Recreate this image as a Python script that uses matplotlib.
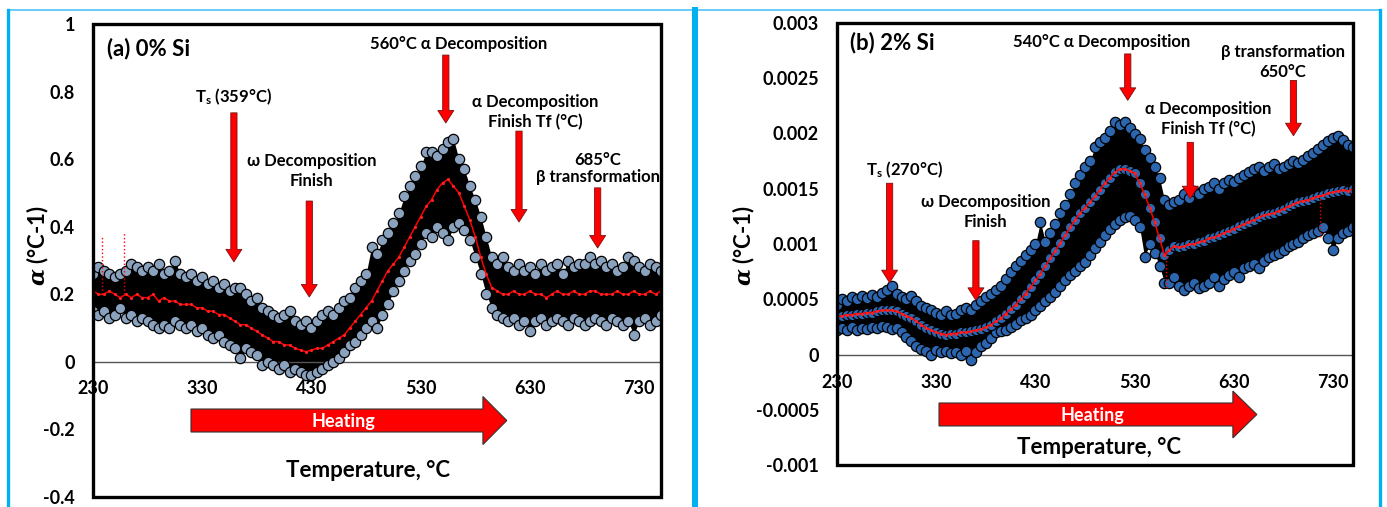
import numpy as np
import matplotlib.pyplot as plt
from matplotlib.lines import Line2D
from matplotlib.patches import FancyArrow, Rectangle

plt.rcParams['font.family'] = ['Lato', 'DejaVu Sans']
plt.rcParams['font.weight'] = 'bold'
plt.rcParams['mathtext.fontset'] = 'custom'
plt.rcParams['mathtext.rm'] = 'Lato:bold'
plt.rcParams['mathtext.bf'] = 'Lato:bold'
plt.rcParams['mathtext.it'] = 'DejaVu Serif:italic:bold'

# temperature grid (5 C steps, 230..750)
temp = np.arange(230, 755, 5)

# (a) 0% Si : cloud upper / lower edge and red average
a_upper = [0.26, 0.28, 0.27, 0.26, 0.25, 0.26, 0.27, 0.29, 0.28, 0.27, 0.28, 0.27, 0.29, 0.26, 0.27,
           0.30, 0.26, 0.25, 0.26, 0.24, 0.25, 0.23, 0.24, 0.22, 0.23, 0.21, 0.22, 0.22, 0.20, 0.18,
           0.19, 0.16, 0.15, 0.14, 0.13, 0.14, 0.15, 0.12, 0.11, 0.12, 0.10, 0.12, 0.14, 0.15, 0.14,
           0.16, 0.18, 0.19, 0.22, 0.24, 0.26, 0.34, 0.32, 0.36, 0.38, 0.41, 0.44, 0.49, 0.52, 0.55,
           0.58, 0.62, 0.62, 0.61, 0.63, 0.65, 0.66, 0.60, 0.57, 0.52, 0.48, 0.43, 0.37, 0.31, 0.29,
           0.31, 0.28, 0.27, 0.29, 0.27, 0.28, 0.26, 0.29, 0.27, 0.28, 0.29, 0.26, 0.30, 0.28, 0.29,
           0.29, 0.31, 0.29, 0.30, 0.28, 0.29, 0.27, 0.28, 0.31, 0.30, 0.28, 0.27, 0.29, 0.28, 0.27]
a_lower = [0.15, 0.14, 0.15, 0.13, 0.14, 0.16, 0.13, 0.14, 0.12, 0.13, 0.12, 0.11, 0.10, 0.11, 0.10,
           0.12, 0.11, 0.10, 0.11, 0.09, 0.10, 0.08, 0.07, 0.08, 0.06, 0.05, 0.04, 0.01, 0.04, 0.03,
           0.02, -0.01, 0.00, -0.01, -0.02, -0.01, -0.03, -0.02, -0.03, -0.04, -0.04, -0.03, -0.02, -0.01, 0.00,
           0.01, 0.03, 0.05, 0.06, 0.08, 0.10, 0.12, 0.10, 0.14, 0.17, 0.21, 0.24, 0.27, 0.30, 0.32,
           0.35, 0.38, 0.37, 0.40, 0.38, 0.36, 0.40, 0.41, 0.39, 0.36, 0.31, 0.26, 0.20, 0.16, 0.14,
           0.13, 0.12, 0.13, 0.11, 0.12, 0.09, 0.12, 0.13, 0.11, 0.12, 0.13, 0.12, 0.11, 0.13, 0.12,
           0.11, 0.12, 0.13, 0.12, 0.11, 0.13, 0.12, 0.11, 0.12, 0.08, 0.12, 0.13, 0.11, 0.12, 0.14]
a_mean = [0.21, 0.20, 0.20, 0.21, 0.20, 0.19, 0.20, 0.19, 0.20, 0.19, 0.19, 0.20, 0.18, 0.19, 0.18,
          0.18, 0.17, 0.17, 0.17, 0.16, 0.16, 0.15, 0.15, 0.14, 0.14, 0.13, 0.12, 0.11, 0.11, 0.10,
          0.09, 0.08, 0.07, 0.06, 0.06, 0.05, 0.05, 0.04, 0.035, 0.03, 0.035, 0.04, 0.04, 0.05, 0.06,
          0.07, 0.08, 0.10, 0.12, 0.14, 0.16, 0.18, 0.21, 0.24, 0.27, 0.29, 0.31, 0.34, 0.37, 0.40,
          0.43, 0.46, 0.48, 0.51, 0.53, 0.54, 0.52, 0.50, 0.46, 0.42, 0.37, 0.31, 0.26, 0.22, 0.21,
          0.20, 0.20, 0.21, 0.20, 0.20, 0.21, 0.20, 0.20, 0.19, 0.20, 0.21, 0.20, 0.20, 0.21, 0.20,
          0.20, 0.21, 0.21, 0.20, 0.20, 0.20, 0.21, 0.20, 0.20, 0.21, 0.20, 0.20, 0.21, 0.20, 0.21]
a_spike_t = [238, 258]
a_spike_base = [0.20, 0.20]
a_spike_top = [0.37, 0.38]

# (b) 2% Si (units 1e-3)
b_upper = [0.45, 0.50, 0.48, 0.52, 0.50, 0.53, 0.51, 0.54, 0.52, 0.56, 0.58, 0.62, 0.55, 0.52, 0.50,
           0.53, 0.48, 0.44, 0.42, 0.40, 0.38, 0.36, 0.39, 0.36, 0.37, 0.40, 0.42, 0.40, 0.45, 0.48,
           0.52, 0.55, 0.58, 0.62, 0.68, 0.75, 0.80, 0.85, 0.90, 0.95, 1.00, 1.20, 1.02, 1.10, 1.18,
           1.28, 1.35, 1.45, 1.55, 1.62, 1.70, 1.75, 1.88, 1.92, 1.96, 2.02, 2.10, 2.08, 2.10, 2.05,
           2.00, 1.95, 1.85, 1.78, 1.70, 1.60, 1.40, 1.35, 1.38, 1.40, 1.45, 1.42, 1.48, 1.45, 1.50,
           1.52, 1.55, 1.50, 1.55, 1.58, 1.56, 1.60, 1.62, 1.65, 1.68, 1.70, 1.66, 1.70, 1.72, 1.68,
           1.70, 1.72, 1.75, 1.73, 1.76, 1.80, 1.82, 1.86, 1.90, 1.93, 1.96, 1.98, 1.94, 1.90, 1.88]
b_lower = [0.22, 0.24, 0.22, 0.25, 0.22, 0.24, 0.23, 0.25, 0.24, 0.26, 0.25, 0.23, 0.24, 0.20, 0.16,
           0.12, 0.08, 0.05, 0.03, 0.00, 0.04, 0.02, 0.03, 0.01, 0.02, 0.00, 0.03, -0.05, 0.02, 0.08,
           0.10, 0.15, 0.20, 0.21, 0.22, 0.25, 0.28, 0.31, 0.33, 0.36, 0.40, 0.44, 0.48, 0.52, 0.57,
           0.62, 0.67, 0.72, 0.76, 0.80, 0.84, 0.90, 0.96, 1.02, 1.08, 1.14, 1.18, 1.22, 1.24, 1.25,
           1.22, 1.15, 0.88, 1.00, 0.92, 0.80, 0.65, 0.65, 0.70, 0.62, 0.58, 0.62, 0.65, 0.60, 0.62,
           0.65, 0.70, 0.62, 0.68, 0.72, 0.75, 0.70, 0.78, 0.80, 0.82, 0.78, 0.85, 0.88, 0.90, 0.92,
           0.95, 0.98, 1.00, 1.02, 1.05, 1.08, 1.10, 1.12, 1.15, 1.05, 0.95, 1.05, 1.10, 1.12, 1.15]
b_mean = [0.34, 0.35, 0.36, 0.36, 0.37, 0.37, 0.38, 0.38, 0.39, 0.40, 0.40, 0.40, 0.39, 0.37, 0.35,
          0.33, 0.30, 0.27, 0.24, 0.22, 0.20, 0.19, 0.18, 0.19, 0.19, 0.20, 0.20, 0.21, 0.22, 0.23,
          0.25, 0.27, 0.30, 0.33, 0.37, 0.41, 0.45, 0.50, 0.55, 0.61, 0.67, 0.73, 0.80, 0.87, 0.94,
          1.01, 1.08, 1.15, 1.22, 1.28, 1.33, 1.38, 1.43, 1.49, 1.55, 1.60, 1.65, 1.68, 1.68, 1.66,
          1.64, 1.55, 1.45, 1.33, 1.20, 1.05, 0.90, 0.95, 0.98, 0.97, 0.98, 1.00, 1.00, 1.02, 1.03,
          1.05, 1.06, 1.08, 1.10, 1.12, 1.14, 1.16, 1.18, 1.20, 1.22, 1.24, 1.26, 1.27, 1.28, 1.30,
          1.32, 1.34, 1.36, 1.38, 1.39, 1.40, 1.42, 1.43, 1.44, 1.46, 1.47, 1.48, 1.49, 1.48, 1.50]
b_spike_t = [562, 717]
b_spike_base = [0.92, 1.44]
b_spike_top = [0.60, 1.06]

xticks = [230, 330, 430, 530, 630, 730]

fig = plt.figure(figsize=(13.87, 5.07), dpi=100)

# light blue frames
cy = '#00B0F0'
H = 507.0
W = 1387.0
fig.add_artist(Line2D([8 / W, 1380 / W], [1 - 10 / H, 1 - 10 / H], color='#4FC3F7', lw=1.2))
fig.add_artist(Line2D([8 / W, 8 / W], [0, 1 - 10 / H], color=cy, lw=2.4))
fig.add_artist(Line2D([695 / W, 695 / W], [0, 1 - 10 / H], color=cy, lw=4.3))
fig.add_artist(Line2D([1380 / W, 1380 / W], [0, 1 - 10 / H], color=cy, lw=2.4))


def panel(rect, up, lo, mean, st, sb, stop, scale, face, ylim, yticks, ylabels, xpad, mid_dots):
    ax = fig.add_axes(rect)
    up = np.array(up) * scale
    lo = np.array(lo) * scale
    mean = np.array(mean) * scale
    ax.fill_between(temp, lo, up, color='black', lw=0, zorder=2)
    rows = (lo, mean, up) if mid_dots else (lo, up)
    for yy in rows:
        ax.scatter(temp, yy, s=55, facecolor=face, edgecolor='black', linewidths=0.9, zorder=3)
    ax.plot(temp, mean, color='red', lw=1.1, zorder=4)
    ax.plot(temp, mean, ls='none', marker='.', ms=2.5, color='#ff2020', zorder=4)
    ax.vlines(st, np.array(sb) * scale, np.array(stop) * scale, colors='red', linestyles=':', lw=1, zorder=4)
    ax.set_xlim(230, 750)
    ax.set_ylim(*ylim)
    ax.set_xticks(xticks)
    ax.set_yticks(yticks)
    ax.set_yticklabels(ylabels)
    for s in ('left', 'right', 'top'):
        ax.spines[s].set_visible(False)
    ax.spines['bottom'].set_position(('data', 0))
    ax.spines['bottom'].set_color('#555555')
    ax.spines['bottom'].set_linewidth(1.0)
    ax.tick_params(axis='both', length=0, labelsize=13)
    ax.tick_params(axis='y', pad=13)
    ax.tick_params(axis='x', pad=xpad)
    ax.add_patch(Rectangle((0, 0), 1, 1, transform=ax.transAxes, fill=False,
                           lw=2.4, ec='black', clip_on=False, zorder=10))
    return ax


def red_arrow(ax, x, y0, y1):
    ax.annotate('', xy=(x, y1), xytext=(x, y0),
                arrowprops=dict(arrowstyle='simple,head_length=0.9,head_width=1.15,tail_width=0.45',
                                mutation_scale=10, fc='red', ec='#7a1010', lw=0.6,
                                shrinkA=0, shrinkB=0), zorder=6)


def heat_arrow(ax, x0, dx, yc, w, hw, hl, tx, ty):
    ax.add_patch(FancyArrow(x0, yc, dx, 0, width=w, head_width=hw, head_length=hl,
                            length_includes_head=True, transform=ax.transAxes,
                            fc='#ff0000', ec='#333333', lw=0.8, zorder=6))
    ax.text(tx, ty, 'Heating', transform=ax.transAxes, color='white', fontsize=13,
            ha='center', va='center', zorder=7)


# ---------- (a) 0% Si ----------
ax1 = panel([93 / W, 10 / H, 568 / W, 473 / H], a_upper, a_lower, a_mean,
            a_spike_t, a_spike_base, a_spike_top, 1.0, '#8AA2BE', (-0.4, 1.0),
            [-0.4, -0.2, 0, 0.2, 0.4, 0.6, 0.8, 1.0],
            ['-0.4', '-0.2', '0', '0.2', '0.4', '0.6', '0.8', '1'], 13, False)
ax1.text(0.025, 0.949, '(a) 0% Si', transform=ax1.transAxes, fontsize=16, va='center')
ax1.text(359, 0.784, 'T$_\\mathrm{s}$ (359°C)', fontsize=12, ha='center', va='center')
ax1.text(565, 0.941, '560°C α Decomposition', fontsize=12, ha='center', va='center')
ax1.text(430, 0.566, 'ω Decomposition\nFinish', fontsize=12, ha='center', va='center', linespacing=1.3)
ax1.text(635, 0.738, 'α Decomposition\nFinish Tf (°C)', fontsize=12, ha='center', va='center', linespacing=1.3)
ax1.text(692, 0.572, '685°C\nβ transformation', fontsize=12, ha='center', va='center',
         linespacing=1.05, clip_on=True)
red_arrow(ax1, 359, 0.737, 0.296)
red_arrow(ax1, 428, 0.476, 0.192)
red_arrow(ax1, 553, 0.908, 0.707)
red_arrow(ax1, 620, 0.683, 0.414)
red_arrow(ax1, 692, 0.515, 0.337)
heat_arrow(ax1, 0.1725, 0.556, 0.1617, 0.0486, 0.1015, 0.042, 0.440, 0.1586)
ax1.text(0.484, 0.057, 'Temperature, °C', transform=ax1.transAxes, fontsize=16, ha='center', va='center')
fig.text(38 / W, 1 - 245 / H, '$\\alpha$ (°C-1)', rotation=90, fontsize=16, ha='center', va='center')

# ---------- (b) 2% Si ----------
ax2 = panel([837 / W, 42 / H, 516 / W, 442 / H], b_upper, b_lower, b_mean,
            b_spike_t, b_spike_base, b_spike_top, 1e-3, '#2B66AE', (-0.001, 0.003),
            [-0.001, -0.0005, 0, 0.0005, 0.001, 0.0015, 0.002, 0.0025, 0.003],
            ['-0.001', '-0.0005', '0', '0.0005', '0.001', '0.0015', '0.002', '0.0025', '0.003'], 14, True)
ax2.text(0.025, 0.955, '(b) 2% Si', transform=ax2.transAxes, fontsize=16, va='center')
ax2.text(497, 2.83e-3, '540°C α Decomposition', fontsize=12, ha='center', va='center')
ax2.text(679, 2.65e-3, 'β transformation\n650°C', fontsize=12, ha='center', va='center',
         linespacing=1.3, clip_on=True)
ax2.text(604, 2.13e-3, 'α Decomposition\nFinish Tf (°C)', fontsize=12, ha='center', va='center', linespacing=1.3)
ax2.text(298, 1.67e-3, 'T$_\\mathrm{s}$ (270°C)', fontsize=12, ha='center', va='center')
ax2.text(380, 1.29e-3, 'ω Decomposition\nFinish', fontsize=12, ha='center', va='center', linespacing=1.3)
red_arrow(ax2, 523, 2.72e-3, 2.30e-3)
red_arrow(ax2, 690, 2.48e-3, 1.98e-3)
red_arrow(ax2, 586, 1.92e-3, 1.41e-3)
red_arrow(ax2, 283, 1.55e-3, 0.65e-3)
red_arrow(ax2, 370, 1.03e-3, 0.49e-3)
heat_arrow(ax2, 0.1977, 0.616, 0.1143, 0.052, 0.106, 0.0465, 0.494, 0.113)
ax2.text(0.508, 0.0385, 'Temperature, °C', transform=ax2.transAxes, fontsize=16, ha='center', va='center')
fig.text(744 / W, 1 - 245 / H, '$\\alpha$ (°C-1)', rotation=90, fontsize=16, ha='center', va='center')

fig.savefig('out.png', dpi=100)
